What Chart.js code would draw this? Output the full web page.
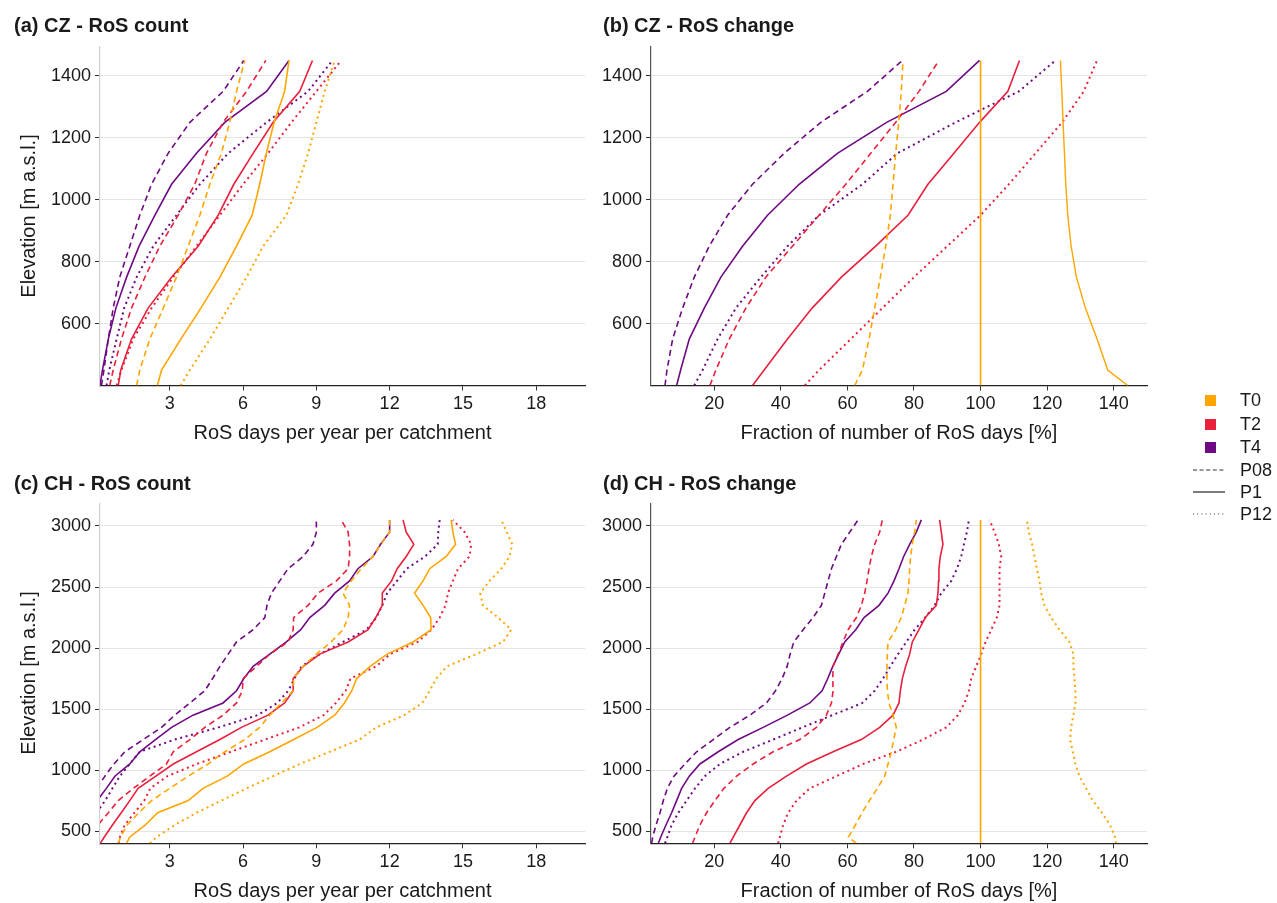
<!DOCTYPE html>
<html>
<head>
<meta charset="utf-8">
<title>RoS count and change by elevation</title>
<script src="https://cdn.jsdelivr.net/npm/chart.js@4.4.1/dist/chart.umd.min.js"></script>
<style>
  html, body { margin: 0; padding: 0; background: #ffffff; }
  #stage { position: relative; width: 1277px; height: 903px; overflow: hidden;
           font-family: "Liberation Sans", Arial, sans-serif; color: #1a1a1a; background: #ffffff; }
  #stage canvas { position: absolute; left: 0; top: 0; }
  .ptitle { position: absolute; font-weight: bold; font-size: 20px; line-height: 20px; white-space: nowrap; }
  .xtitle { position: absolute; font-size: 20px; line-height: 20px; white-space: nowrap; transform: translateX(-50%); }
  .ytitle { position: absolute; font-size: 20px; line-height: 20px; white-space: nowrap;
            transform: translate(-50%, -50%) rotate(-90deg); }
  .lg-text { position: absolute; font-size: 18px; line-height: 18px; white-space: nowrap; transform: translateY(-50%); }
  .lg-box { position: absolute; width: 11px; height: 11px; }
  .lg-line { position: absolute; }
</style>
</head>
<body>
<div id="stage">
  <canvas id="cz-count" width="1277" height="903"></canvas>
  <canvas id="cz-change" width="1277" height="903"></canvas>
  <canvas id="ch-count" width="1277" height="903"></canvas>
  <canvas id="ch-change" width="1277" height="903"></canvas>

  <div class="ptitle" style="left:14px; top:15px;">(a) CZ - RoS count</div>
  <div class="ptitle" style="left:603px; top:15px;">(b) CZ - RoS change</div>
  <div class="ptitle" style="left:14px; top:473px;">(c) CH - RoS count</div>
  <div class="ptitle" style="left:603px; top:473px;">(d) CH - RoS change</div>

  <div class="ytitle" style="left:28px; top:216px;">Elevation [m a.s.l.]</div>
  <div class="ytitle" style="left:28px; top:673px;">Elevation [m a.s.l.]</div>

  <div class="xtitle" style="left:342.5px; top:422px;">RoS days per year per catchment</div>
  <div class="xtitle" style="left:899px; top:422px;">Fraction of number of RoS days [%]</div>
  <div class="xtitle" style="left:342.5px; top:880px;">RoS days per year per catchment</div>
  <div class="xtitle" style="left:899px; top:880px;">Fraction of number of RoS days [%]</div>

  <div id="legend"></div>
</div>

<script>
// Elevation bands (m a.s.l.)
const CZ_ELEV = [400, 450, 550, 650, 750, 850, 950, 1050, 1150, 1250, 1350, 1450];
const CH_ELEV = [400, 450, 550, 650, 750, 850, 950, 1050, 1150, 1250, 1350, 1450, 1550, 1650,
                 1750, 1850, 1950, 2050, 2150, 2250, 2350, 2450, 2550, 2650, 2750, 2850, 2950, 3050];

// Axis ticks
const COUNT_TICKS = [3, 6, 9, 12, 15, 18];
const FRACTION_TICKS = [20, 40, 60, 80, 100, 120, 140];
const CZ_ELEV_TICKS = [600, 800, 1000, 1200, 1400];
const CH_ELEV_TICKS = [500, 1000, 1500, 2000, 2500, 3000];

// Scenario / precipitation legend entries
const SCENARIOS = ['T0', 'T2', 'T4'];
const PRECIP = ['P08', 'P1', 'P12'];

// (a) CZ - RoS days per year per catchment
const CZ_COUNT_T0_P08 = [1.64, 1.77, 2.18, 2.73, 3.27, 3.75, 4.23, 4.64, 5.11, 5.45, 5.73, 6.07];
const CZ_COUNT_T0_P1  = [2.49, 2.66, 3.45, 4.27, 5.05, 5.73, 6.37, 6.68, 6.95, 7.27, 7.70, 7.88];
const CZ_COUNT_T0_P12 = [3.44, 3.82, 4.64, 5.39, 6.14, 6.82, 7.77, 8.25, 8.66, 9.00, 9.34, 9.75];
const CZ_COUNT_T2_P08 = [0.54, 0.68, 1.02, 1.43, 1.98, 2.59, 3.34, 4.02, 4.50, 5.18, 6.14, 6.93];
const CZ_COUNT_T2_P1  = [0.89, 0.99, 1.43, 2.11, 3.07, 4.16, 4.98, 5.62, 6.41, 7.23, 8.32, 8.84];
const CZ_COUNT_T2_P12 = [0.82, 1.02, 1.50, 2.25, 3.14, 4.09, 5.05, 6.00, 7.02, 7.98, 9.00, 10.02];
const CZ_COUNT_T4_P08 = [0.20, 0.30, 0.48, 0.68, 0.95, 1.36, 1.77, 2.25, 2.93, 3.82, 5.18, 6.03];
const CZ_COUNT_T4_P1  = [0.14, 0.24, 0.48, 0.79, 1.23, 1.74, 2.39, 3.07, 4.09, 5.25, 6.96, 7.88];
const CZ_COUNT_T4_P12 = [0.41, 0.52, 0.82, 1.13, 1.64, 2.32, 3.27, 4.23, 5.39, 6.96, 8.66, 9.66];

// (b) CZ - fraction of number of RoS days relative to T0 P1 (%)
const CZ_CHANGE_T0_P08 = [62.2, 64.5, 66.5, 68.2, 69.9, 71.5, 72.9, 73.7, 74.5, 75.4, 76.2, 76.7];
const CZ_CHANGE_T0_P1  = [100, 100, 100, 100, 100, 100, 100, 100, 100, 100, 100, 100];
const CZ_CHANGE_T0_P12 = [144.2, 138.2, 135.0, 131.5, 128.8, 127.2, 126.2, 125.6, 125.2, 124.8, 124.4, 124.0];
const CZ_CHANGE_T2_P08 = [18.7, 20.5, 24.5, 29.5, 35.5, 43.5, 51.5, 59.5, 67.0, 74.5, 81.5, 87.5];
const CZ_CHANGE_T2_P1  = [31.5, 35.0, 42.0, 49.4, 58.2, 68.5, 78.2, 84.2, 92.0, 99.7, 108.2, 111.7];
const CZ_CHANGE_T2_P12 = [47.2, 51.5, 61.0, 70.5, 80.0, 90.0, 100.0, 108.5, 116.5, 124.5, 131.0, 135.0];
const CZ_CHANGE_T4_P08 = [5.2, 5.8, 7.5, 10.5, 14.0, 18.5, 24.0, 31.5, 41.0, 52.0, 66.0, 76.5];
const CZ_CHANGE_T4_P1  = [8.7, 9.9, 12.5, 17.0, 22.0, 28.5, 36.0, 45.5, 57.0, 71.8, 89.7, 99.7];
const CZ_CHANGE_T4_P12 = [14.0, 16.5, 21.0, 26.5, 34.0, 42.0, 51.5, 64.5, 75.0, 92.5, 111.5, 122.5];

// (c) CH - RoS days per year per catchment
const CH_COUNT_T0_P08 = [0.89, 0.98, 1.25, 1.73, 2.25, 3.0, 3.75, 4.57, 5.25, 6.07, 6.68, 7.09, 7.57, 8.05,
                         8.07, 8.46, 9.0, 9.6, 10.09, 10.3, 10.36, 10.09, 10.43, 10.84, 11.32, 11.63, 12.0, 12.0];
const CH_COUNT_T0_P1  = [1.23, 1.35, 2.0, 2.5, 3.75, 4.36, 5.35, 6.03, 7.09, 8.07, 9.03, 9.75, 10.15, 10.45,
                         10.65, 11.2, 11.9, 12.96, 13.7, 13.68, 13.37, 13.02, 13.37, 13.64, 14.32, 14.70, 14.59, 14.52];
const CH_COUNT_T0_P12 = [2.18, 2.45, 3.2, 4.09, 5.11, 6.14, 7.23, 8.32, 9.55, 10.77, 11.45, 12.6, 13.34, 13.64,
                         13.91, 14.35, 15.55, 16.64, 16.98, 16.44, 15.82, 15.71, 16.09, 16.57, 16.91, 17.02, 16.8, 16.57];
const CH_COUNT_T2_P08 = [0, 0, 0.05, 0.48, 0.89, 1.5, 2.18, 2.86, 3.14, 3.82, 4.43, 5.18, 5.73, 5.97,
                         6.0, 6.55, 7.09, 7.84, 8.05, 8.07, 8.66, 9.07, 9.82, 10.3, 10.36, 10.36, 10.3, 10.02];
const CH_COUNT_T2_P1  = [0.15, 0.31, 0.65, 1.01, 1.36, 1.70, 2.43, 3.14, 4.09, 5.05, 5.93, 7.02, 7.7, 8.05,
                         8.05, 8.46, 9.14, 10.3, 11.12, 11.43, 11.7, 11.7, 12.08, 12.31, 12.68, 12.99, 12.68, 12.55];
const CH_COUNT_T2_P12 = [0.9, 0.95, 1.15, 1.55, 1.95, 2.2, 2.9, 4.1, 5.5, 6.9, 8.3, 9.3, 9.8, 10.2,
                         10.4, 11.45, 12.02, 13.15, 13.71, 14.05, 14.29, 14.39, 14.59, 14.8, 15.27, 15.34, 15.07, 14.59];
const CH_COUNT_T4_P08 = [0, 0, 0, 0, 0, 0, 0.34, 0.71, 1.16, 1.91, 2.66, 3.2, 3.82, 4.43,
                         4.75, 5.05, 5.39, 5.73, 6.41, 6.89, 6.98, 7.16, 7.5, 7.84, 8.46, 8.86, 9.0, 9.0];
const CH_COUNT_T4_P1  = [0, 0, 0, 0, 0.03, 0.4, 0.75, 1.36, 1.77, 2.41, 3.07, 3.95, 5.18, 5.73,
                         6.03, 6.41, 7.09, 7.77, 8.36, 8.73, 9.34, 9.75, 10.36, 10.7, 11.32, 11.63, 12.0, 12.0];
const CH_COUNT_T4_P12 = [0, 0, 0, 0, 0.35, 0.65, 0.95, 1.36, 1.77, 3.2, 5.0, 6.6, 7.4, 7.85,
                         8.1, 8.4, 9.14, 10.09, 11.05, 11.46, 11.7, 11.9, 12.3, 12.7, 13.45, 13.97, 13.99, 14.05];

// (d) CH - fraction of number of RoS days relative to T0 P1 (%)
const CH_CHANGE_T0_P08 = [62.7, 60.3, 62.4, 64.4, 66.6, 69.0, 71.2, 72.2, 73.2, 73.9, 74.7, 73.7, 72.5, 72.0,
                          71.9, 71.9, 72.0, 72.2, 74.5, 76.2, 77.2, 78.2, 78.5, 78.7, 79.0, 79.5, 80.2, 80.7];
const CH_CHANGE_T0_P1  = [100, 100, 100, 100, 100, 100, 100, 100, 100, 100, 100, 100, 100, 100,
                          100, 100, 100, 100, 100, 100, 100, 100, 100, 100, 100, 100, 100, 100];
const CH_CHANGE_T0_P12 = [140.7, 140.4, 138.9, 136.5, 133.7, 131.7, 129.7, 128.5, 127.7, 126.9, 127.2, 127.9, 128.5, 128.5,
                          128.2, 127.9, 127.9, 126.7, 123.7, 121.2, 119.2, 118.2, 117.7, 116.9, 116.2, 115.5, 114.5, 113.9];
const CH_CHANGE_T2_P08 = [13.5, 14.2, 15.7, 17.7, 20.2, 22.9, 26.7, 31.7, 37.7, 45.7, 50.7, 53.7, 55.2, 55.7,
                          55.6, 55.7, 57.2, 58.7, 60.2, 62.7, 64.2, 65.2, 65.9, 66.5, 67.2, 68.2, 69.7, 70.5];
const CH_CHANGE_T2_P1  = [24.7, 25.7, 27.7, 29.7, 32.2, 36.2, 41.7, 47.7, 55.7, 64.2, 69.7, 73.7, 75.5, 75.9,
                          76.5, 77.5, 78.7, 79.5, 81.5, 83.4, 86.7, 87.2, 87.4, 87.5, 87.9, 88.7, 88.2, 87.7];
const CH_CHANGE_T2_P12 = [39.2, 39.7, 40.7, 42.2, 44.7, 48.7, 56.7, 64.7, 74.7, 82.7, 89.7, 93.2, 95.2, 96.5,
                          97.2, 98.7, 100.2, 101.5, 103.2, 104.9, 105.7, 105.7, 105.7, 105.7, 106.2, 105.5, 104.2, 102.7];
const CH_CHANGE_T4_P08 = [1.2, 1.5, 2.5, 3.7, 4.7, 5.9, 7.9, 11.2, 14.7, 19.7, 24.7, 30.7, 35.7, 38.4,
                          40.4, 41.9, 42.8, 43.9, 46.7, 49.7, 52.2, 53.2, 54.2, 55.2, 56.7, 58.2, 60.7, 63.2];
const CH_CHANGE_T4_P1  = [3.2, 3.9, 5.5, 7.2, 8.7, 10.2, 12.5, 15.7, 21.2, 27.2, 34.7, 42.0, 48.7, 52.4,
                          54.1, 55.6, 57.4, 59.2, 62.5, 65.0, 69.5, 72.2, 74.0, 75.5, 76.9, 78.7, 80.7, 82.2];
const CH_CHANGE_T4_P12 = [5.2, 5.9, 7.2, 9.2, 11.7, 14.2, 17.2, 21.7, 28.7, 37.7, 46.5, 55.5, 64.5, 68.2,
                          70.7, 72.9, 75.2, 77.7, 80.2, 83.4, 86.2, 88.2, 91.2, 92.9, 94.2, 95.0, 95.9, 96.5];

// ---- styling ----
const FONT = "'Liberation Sans', Arial, sans-serif";
const COLORS = { T0: '#FFA500', T2: '#E8203C', T4: '#6E0A82' };
const DASHES = { P08: [6, 4], P1: [], P12: [2, 3.6] };
const WIDTHS = { P08: 1.6, P1: 1.6, P12: 2 };
const W = 1277, H = 903;
const YAXIS_W = 60, XAXIS_H = 40;

function points(elev, values) {
  return elev.map((e, i) => ({ x: values[i], y: e }));
}

function makePanel(id, area, xRange, xTicks, yRange, yTicks, elev, table, leftAxisColor, dashOverride) {
  const datasets = [];
  for (const t of SCENARIOS) {
    for (const p of PRECIP) {
      const key = t + ' ' + p;
      const solidOverride = dashOverride && dashOverride[key];
      datasets.push({
        label: key,
        data: points(elev, table[t][p]),
        borderColor: COLORS[t],
        borderWidth: solidOverride ? 1.4 : WIDTHS[p],
        borderDash: solidOverride ? dashOverride[key] : DASHES[p],
        pointRadius: 0,
        pointHoverRadius: 0,
        tension: 0,
        fill: false,
        clip: 0
      });
    }
  }
  const tickFont = { family: FONT, size: 18 };
  new Chart(document.getElementById(id), {
    type: 'line',
    data: { datasets },
    options: {
      responsive: false,
      animation: false,
      devicePixelRatio: 1,
      events: [],
      layout: { padding: { left: area.l - YAXIS_W, top: area.t, right: W - area.r, bottom: H - area.b - XAXIS_H } },
      plugins: { legend: { display: false }, tooltip: { enabled: false }, title: { display: false } },
      scales: {
        x: {
          type: 'linear', min: xRange[0], max: xRange[1],
          afterBuildTicks: s => { s.ticks = xTicks.map(v => ({ value: v })); },
          afterFit: s => { s.height = XAXIS_H; },
          grid: { drawOnChartArea: false, drawTicks: true, tickLength: 5, tickColor: '#333333', tickWidth: 1 },
          border: { display: true, color: '#222222', width: 1.2 },
          ticks: { font: tickFont, color: '#1a1a1a', padding: 3, maxRotation: 0, autoSkip: false,
                   callback: v => String(v) }
        },
        y: {
          type: 'linear', min: yRange[0], max: yRange[1],
          afterBuildTicks: s => { s.ticks = yTicks.map(v => ({ value: v })); },
          afterFit: s => { s.width = YAXIS_W; },
          grid: { color: '#e4e4e4', lineWidth: 1, drawTicks: true, tickLength: 5, tickColor: '#333333', tickWidth: 1 },
          border: { display: true, color: leftAxisColor, width: 1.2 },
          ticks: { font: tickFont, color: '#1a1a1a', padding: 4, autoSkip: false,
                   callback: v => String(v) }
        }
      }
    }
  });
}

const CZ_COUNT = {
  T0: { P08: CZ_COUNT_T0_P08, P1: CZ_COUNT_T0_P1, P12: CZ_COUNT_T0_P12 },
  T2: { P08: CZ_COUNT_T2_P08, P1: CZ_COUNT_T2_P1, P12: CZ_COUNT_T2_P12 },
  T4: { P08: CZ_COUNT_T4_P08, P1: CZ_COUNT_T4_P1, P12: CZ_COUNT_T4_P12 }
};
const CZ_CHANGE = {
  T0: { P08: CZ_CHANGE_T0_P08, P1: CZ_CHANGE_T0_P1, P12: CZ_CHANGE_T0_P12 },
  T2: { P08: CZ_CHANGE_T2_P08, P1: CZ_CHANGE_T2_P1, P12: CZ_CHANGE_T2_P12 },
  T4: { P08: CZ_CHANGE_T4_P08, P1: CZ_CHANGE_T4_P1, P12: CZ_CHANGE_T4_P12 }
};
const CH_COUNT = {
  T0: { P08: CH_COUNT_T0_P08, P1: CH_COUNT_T0_P1, P12: CH_COUNT_T0_P12 },
  T2: { P08: CH_COUNT_T2_P08, P1: CH_COUNT_T2_P1, P12: CH_COUNT_T2_P12 },
  T4: { P08: CH_COUNT_T4_P08, P1: CH_COUNT_T4_P1, P12: CH_COUNT_T4_P12 }
};
const CH_CHANGE = {
  T0: { P08: CH_CHANGE_T0_P08, P1: CH_CHANGE_T0_P1, P12: CH_CHANGE_T0_P12 },
  T2: { P08: CH_CHANGE_T2_P08, P1: CH_CHANGE_T2_P1, P12: CH_CHANGE_T2_P12 },
  T4: { P08: CH_CHANGE_T4_P08, P1: CH_CHANGE_T4_P1, P12: CH_CHANGE_T4_P12 }
};

makePanel('cz-count',  { l: 100, t: 46.5, r: 585, b: 385.5 }, [0.14, 20], COUNT_TICKS,
          [400, 1495], CZ_ELEV_TICKS, CZ_ELEV, CZ_COUNT, '#cfcfcf');
makePanel('cz-change', { l: 651, t: 46.5, r: 1147, b: 385.5 }, [1, 150], FRACTION_TICKS,
          [400, 1495], CZ_ELEV_TICKS, CZ_ELEV, CZ_CHANGE, '#555555', { 'T0 P12': [] });
makePanel('ch-count',  { l: 100, t: 503.3, r: 585, b: 843.3 }, [0.14, 20], COUNT_TICKS,
          [400, 3186], CH_ELEV_TICKS, CH_ELEV, CH_COUNT, '#cfcfcf');
makePanel('ch-change', { l: 651, t: 503.3, r: 1147, b: 843.3 }, [1, 150], FRACTION_TICKS,
          [400, 3186], CH_ELEV_TICKS, CH_ELEV, CH_CHANGE, '#555555');

// ---- legend ----
(function buildLegend() {
  const lg = document.getElementById('legend');
  const rowsY = [400, 424, 447, 469.5, 492, 514];
  SCENARIOS.forEach((t, i) => {
    const box = document.createElement('div');
    box.className = 'lg-box';
    box.style.left = '1205px';
    box.style.top = (rowsY[i] - 5.5) + 'px';
    box.style.background = COLORS[t];
    lg.appendChild(box);
    const txt = document.createElement('div');
    txt.className = 'lg-text';
    txt.style.left = '1240px';
    txt.style.top = rowsY[i] + 'px';
    txt.textContent = t;
    lg.appendChild(txt);
  });
  const svgDash = { P08: '4 2.6', P1: '', P12: '1 3.2' };
  PRECIP.forEach((p, j) => {
    const y = rowsY[3 + j];
    const ns = 'http://www.w3.org/2000/svg';
    const svg = document.createElementNS(ns, 'svg');
    svg.setAttribute('class', 'lg-line');
    svg.setAttribute('width', '34');
    svg.setAttribute('height', '4');
    svg.style.left = '1192px';
    svg.style.top = (y - 2) + 'px';
    const line = document.createElementNS(ns, 'line');
    line.setAttribute('x1', '1'); line.setAttribute('x2', '33');
    line.setAttribute('y1', '2'); line.setAttribute('y2', '2');
    line.setAttribute('stroke', '#333333');
    line.setAttribute('stroke-width', p === 'P1' ? '1.3' : '1');
    if (svgDash[p]) line.setAttribute('stroke-dasharray', svgDash[p]);
    svg.appendChild(line);
    lg.appendChild(svg);
    const txt = document.createElement('div');
    txt.className = 'lg-text';
    txt.style.left = '1240px';
    txt.style.top = y + 'px';
    txt.textContent = p;
    lg.appendChild(txt);
  });
})();
</script>
</body>
</html>
